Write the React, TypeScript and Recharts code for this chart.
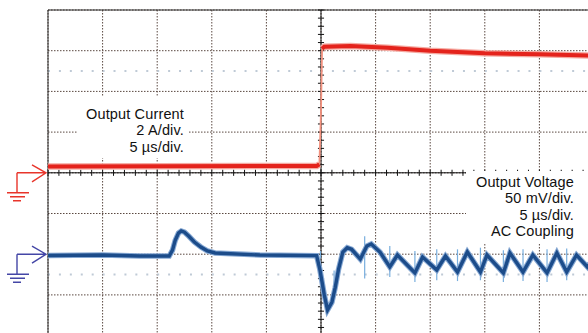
import React from 'react';
import { LineChart, Line, XAxis, YAxis, CartesianGrid, ReferenceLine } from 'recharts';

// time base 5 us/div, 10 divisions, trigger at the centre
const timeTicks = [-25, -20, -15, -10, -5, 0, 5, 10, 15, 20, 25];
// ch1 output current, 2 A/div
const currentTicks = [-8, -6, -4, -2, 0, 2, 4, 6, 8];
// ch2 output voltage, 50 mV/div, ground two divisions below centre
const voltageTicks = [-100, -50, 0, 50, 100, 150, 200, 250, 300];

// load step (us, A)
const currentTime = [-25, -15, -5, -0.4, -0.15, 0, 0.1, 0.3, 2.7, 6.1, 10, 15, 20, 25];
const currentAmps = [0.31, 0.32, 0.33, 0.33, 0.42, 3.0, 6.1, 6.2, 6.23, 6.15, 6.0, 5.87, 5.82, 5.76];

// output voltage response (us, mV)
const voltageTime = [
  -25, -20, -16.6, -13.9, -13.6, -13.35, -13.05, -12.8, -12.5, -12.1, -11.6, -11.0, -10.4, -9.7, -5.6,
  -0.4, -0.1, 0.3, 0.6, 1.0, 1.3, 1.6, 2.0, 2.4, 2.8, 3.6, 4.2, 4.6, 5.4, 6.3, 7.0, 8.6, 9.3, 10.6,
  11.4, 12.5, 13.4, 14.6, 15.2, 16.7, 17.3, 18.5, 19.4, 20.7, 21.6, 22.5, 23.4, 24.4, 25,
];
const voltageMv = [
  -1.6, -1, -2.2, -2.2, 5, 17, 26, 28.5, 27, 22, 15, 8.8, 4, 1.5, -1,
  -1.8, -19, -50, -68.5, -59, -41, -19, 2.7, 8, 6, -6, 10, 12.5, 2.7, -15.7, -1, -23, -3.4, -19.4,
  -2.2, -21.9, 2.7, -21.9, -1, -23, 1.5, -21.9, -1, -23, 1.5, -21.9, -1, -15.7, -4.7,
];

// switching spikes on the ripple (us, low mV, high mV)
const spikeTime = [-0.05, 1.2, 4.0, 6.3, 8.6, 10.6, 12.5, 14.6, 16.7, 18.5, 20.7, 22.5];
const spikeLow = [-5, -45, -30, -28, -34, -32, -33, -32, -34, -33, -34, -32];
const spikeHigh = [4, -20, 22, 10, 4, 6, 6, 8, 5, 6, 6, 7];

const currentLabel = ['Output Current', '2 A/div.', '5 µs/div.'];
const voltageLabel = ['Output Voltage', '50 mV/div.', '5 µs/div.', 'AC Coupling'];

const currentRows = currentTime.map((t, i) => ({
  t,
  a: currentAmps[i],
  core: t === 0 ? null : currentAmps[i], // fast edge drawn thin
}));
const voltageRows = voltageTime.map((t, i) => ({ t, mv: voltageMv[i] }));

// minor ticks on the centre graticule, 5 per division
const timeMinor = Array.from({ length: 51 }, (_, i) => -25 + i);
const currentMinor = Array.from({ length: 41 }, (_, i) => +(-8 + i * 0.4).toFixed(1));

const groundMarker = (color: string) => (props: any) => {
  const vb = props.viewBox || {};
  const x = vb.x;
  const y = vb.y;
  if (x == null || y == null) return null;
  const gx = x - 31;
  return (
    <g stroke={color} strokeWidth={1.4} fill="none">
      <path d={`M${gx},${y} H${x - 2} M${x - 16},${y - 8} L${x - 2},${y} L${x - 16},${y + 9} M${gx},${y} V${y + 20}`} />
      <path d={`M${gx - 10},${y + 20} H${gx + 12} M${gx - 7},${y + 24} H${gx + 8} M${gx - 4},${y + 28} H${gx + 4}`} />
    </g>
  );
};

const textStyle: React.CSSProperties = {
  position: 'absolute',
  textAlign: 'right',
  fontFamily: '"Liberation Sans", Arial, sans-serif',
  fontSize: 14.5,
  lineHeight: '16.4px',
  letterSpacing: 0.15,
  color: '#111',
  whiteSpace: 'nowrap',
};

export default function App() {
  return (
    <div style={{ position: 'fixed', left: 0, top: 0, width: 588, height: 333, overflow: 'hidden', background: '#fff' }}>
      <LineChart width={600} height={340} margin={{ top: 10, right: 6, bottom: 4.4, left: 48 }}>
        <XAxis type="number" dataKey="t" domain={[-25, 25]} ticks={timeTicks} hide allowDataOverflow />
        <YAxis yAxisId="i" type="number" domain={[-8, 8]} ticks={currentTicks} hide allowDataOverflow />
        <YAxis yAxisId="v" type="number" domain={[-100, 300]} ticks={voltageTicks} orientation="right" hide allowDataOverflow />
        <CartesianGrid yAxisId="i" stroke="#5a4840" strokeDasharray="1.5 1.5" />

        <ReferenceLine yAxisId="i" y={5} stroke="#bfcad6" strokeWidth={2} strokeDasharray="2 8.92" />
        <ReferenceLine yAxisId="i" y={-5} stroke="#bfcad6" strokeWidth={2} strokeDasharray="2 8.92" />
        <ReferenceLine yAxisId="i" x={-25} stroke="#2a2a2a" />
        <ReferenceLine yAxisId="i" y={8} stroke="#2a2a2a" />
        <ReferenceLine yAxisId="i" x={0} stroke="#111" />
        <ReferenceLine yAxisId="i" y={0} stroke="#111" />
        {timeMinor.map((t) => (
          <ReferenceLine key={'mx' + t} yAxisId="i" segment={[{ x: t, y: -0.15 }, { x: t, y: 0.15 }]} stroke="#111" />
        ))}
        {currentMinor.map((a) => (
          <ReferenceLine key={'my' + a} yAxisId="i" segment={[{ x: -0.28, y: a }, { x: 0.28, y: a }]} stroke="#111" />
        ))}
        <ReferenceLine yAxisId="i" y={0} stroke="none" label={groundMarker('#e8352b')} />
        <ReferenceLine yAxisId="v" y={0} stroke="none" label={groundMarker('#4446a6')} />
        {spikeTime.map((t, i) => (
          <ReferenceLine
            key={'sp' + t}
            yAxisId="v"
            segment={[{ x: t, y: spikeLow[i] }, { x: t, y: spikeHigh[i] }]}
            stroke="#78aede"
            strokeWidth={1.2}
          />
        ))}

        <Line yAxisId="i" data={currentRows} dataKey="a" stroke="#f3927f" strokeWidth={1.8} dot={false} isAnimationActive={false} />
        <Line yAxisId="i" data={currentRows} dataKey="core" stroke="#f5aaa2" strokeWidth={6.5} dot={false} isAnimationActive={false} />
        <Line yAxisId="i" data={currentRows} dataKey="core" stroke="#e4231c" strokeWidth={4} dot={false} isAnimationActive={false} />
        <Line yAxisId="v" data={voltageRows} dataKey="mv" stroke="#86a8d3" strokeWidth={5.5} dot={false} isAnimationActive={false} />
        <Line yAxisId="v" data={voltageRows} dataKey="mv" stroke="#1c4c8a" strokeWidth={3.4} dot={false} isAnimationActive={false} />
      </LineChart>

      <div style={{ position: 'absolute', left: 78, top: 97, width: 111, height: 61, background: '#fff' }} />
      <div style={{ ...textStyle, right: 588 - 184, top: 106 }}>
        {currentLabel.map((s) => (
          <div key={s}>{s}</div>
        ))}
      </div>

      <div style={{ position: 'absolute', left: 466, top: 171, width: 130, height: 72, background: '#fff' }} />
      <div style={{ ...textStyle, right: 588 - 574, top: 174 }}>
        {voltageLabel.map((s) => (
          <div key={s}>{s}</div>
        ))}
      </div>
    </div>
  );
}
